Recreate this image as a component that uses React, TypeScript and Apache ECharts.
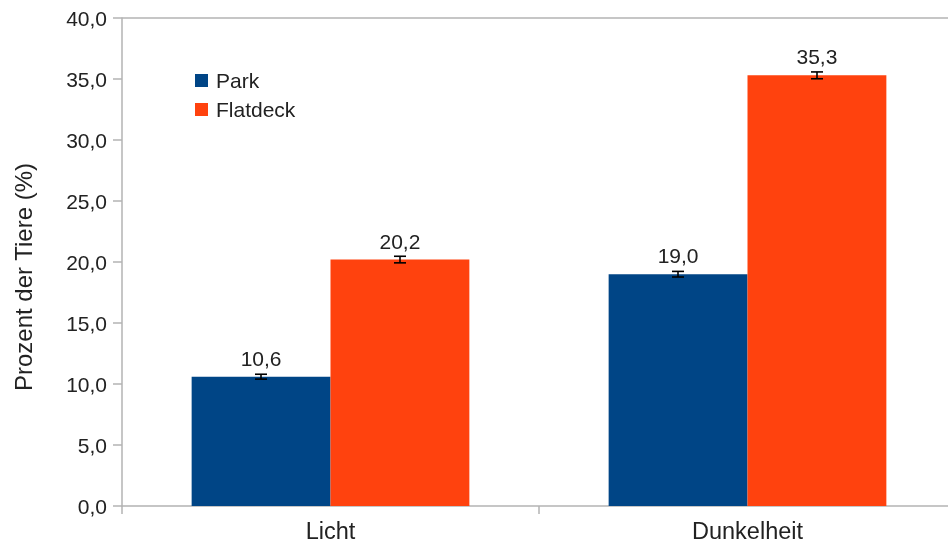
import React, { useEffect, useRef } from "react";
import * as echarts from "echarts";

const categories = ["Licht", "Dunkelheit"];
const parkValues = [10.6, 19.0];
const flatdeckValues = [20.2, 35.3];
const parkErrors = [0.2, 0.23];
const flatdeckErrors = [0.27, 0.28];
const yTicks = [0, 5, 10, 15, 20, 25, 30, 35, 40];
const seriesNames = ["Park", "Flatdeck"];
const yAxisTitle = "Prozent der Tiere (%)";

const FONT = "Liberation Sans";
const fmt = (v: number) => v.toFixed(1).replace(".", ",");

function errorSeries(values: number[], errors: number[], side: number) {
  return {
    type: "custom",
    name: "err" + side,
    z: 5,
    silent: true,
    encode: { x: 0, y: 1 },
    data: values.map((v, i) => [i, v, errors[i]]),
    renderItem: (params: any, api: any) => {
      const idx = api.value(0);
      const v = api.value(1);
      const e = api.value(2);
      const band = api.size([1, 0])[0];
      const off = (side * band) / 6;
      const top = api.coord([idx, v + e]);
      const bot = api.coord([idx, v - e]);
      const x = top[0] + off;
      const hw = 6;
      const st = { stroke: "#000", lineWidth: 1.6 };
      return {
        type: "group",
        children: [
          { type: "line", shape: { x1: x, y1: top[1], x2: x, y2: bot[1] }, style: st },
          { type: "line", shape: { x1: x - hw, y1: top[1], x2: x + hw, y2: top[1] }, style: st },
          { type: "line", shape: { x1: x - hw, y1: bot[1], x2: x + hw, y2: bot[1] }, style: st },
        ],
      };
    },
  };
}

export default function App() {
  const ref = useRef<HTMLDivElement>(null);
  useEffect(() => {
    if (!ref.current) return;
    const chart = echarts.init(ref.current, null, { renderer: "svg" });
    const gridColors = yTicks.map((t) => (t === yTicks[yTicks.length - 1] ? "#b3b3b3" : "rgba(0,0,0,0)"));
    const barLabel = {
      show: true,
      position: "top",
      distance: 8,
      fontFamily: FONT,
      fontSize: 21,
      color: "#222",
      formatter: (p: any) => fmt(p.value),
    };
    chart.setOption({
      animation: false,
      textStyle: { fontFamily: FONT },
      grid: { left: 122, right: 2, top: 18, bottom: 44 },
      legend: {
        data: seriesNames,
        orient: "vertical",
        left: 190,
        top: 65,
        icon: "rect",
        itemWidth: 13,
        itemHeight: 13,
        itemGap: 8,
        itemStyle: { borderWidth: 0 },
        textStyle: { fontFamily: FONT, fontSize: 21, color: "#222", padding: [0, 0, 0, 3] },
      },
      xAxis: {
        type: "category",
        data: categories,
        axisLine: { lineStyle: { color: "#b3b3b3", width: 1.5 } },
        axisTick: { show: true, length: 8, lineStyle: { color: "#b3b3b3", width: 1.5 } },
        axisLabel: { fontFamily: FONT, fontSize: 23.5, color: "#222", margin: 13 },
      },
      yAxis: {
        type: "value",
        min: yTicks[0],
        max: yTicks[yTicks.length - 1],
        interval: 5,
        axisLine: { show: true, lineStyle: { color: "#b3b3b3", width: 1.5 } },
        axisTick: { show: true, length: 9, lineStyle: { color: "#b3b3b3", width: 1.5 } },
        axisLabel: { fontFamily: FONT, fontSize: 21, color: "#222", margin: 15, formatter: (v: number) => fmt(v) },
        splitLine: { show: true, lineStyle: { color: gridColors, width: 1.5 } },
      },
      graphic: [
        {
          type: "text",
          x: 23,
          y: 277,
          rotation: Math.PI / 2,
          style: {
            text: yAxisTitle,
            fontFamily: FONT,
            fontSize: 24,
            fill: "#222",
            align: "center",
            verticalAlign: "middle",
          },
        },
      ],
      series: [
        {
          name: seriesNames[0],
          type: "bar",
          data: parkValues,
          barWidth: "33.3%",
          barGap: "0%",
          itemStyle: { color: "#004586" },
          label: barLabel,
        },
        {
          name: seriesNames[1],
          type: "bar",
          data: flatdeckValues,
          barWidth: "33.3%",
          barGap: "0%",
          itemStyle: { color: "#ff420e" },
          label: barLabel,
        },
        errorSeries(parkValues, parkErrors, -1),
        errorSeries(flatdeckValues, flatdeckErrors, 1),
      ],
    });
    return () => chart.dispose();
  }, []);
  return (
    <div style={{ position: "fixed", left: 0, top: 0, width: 948, height: 550, overflow: "hidden" }}>
      <div ref={ref} style={{ width: 958, height: 550 }} />
    </div>
  );
}
